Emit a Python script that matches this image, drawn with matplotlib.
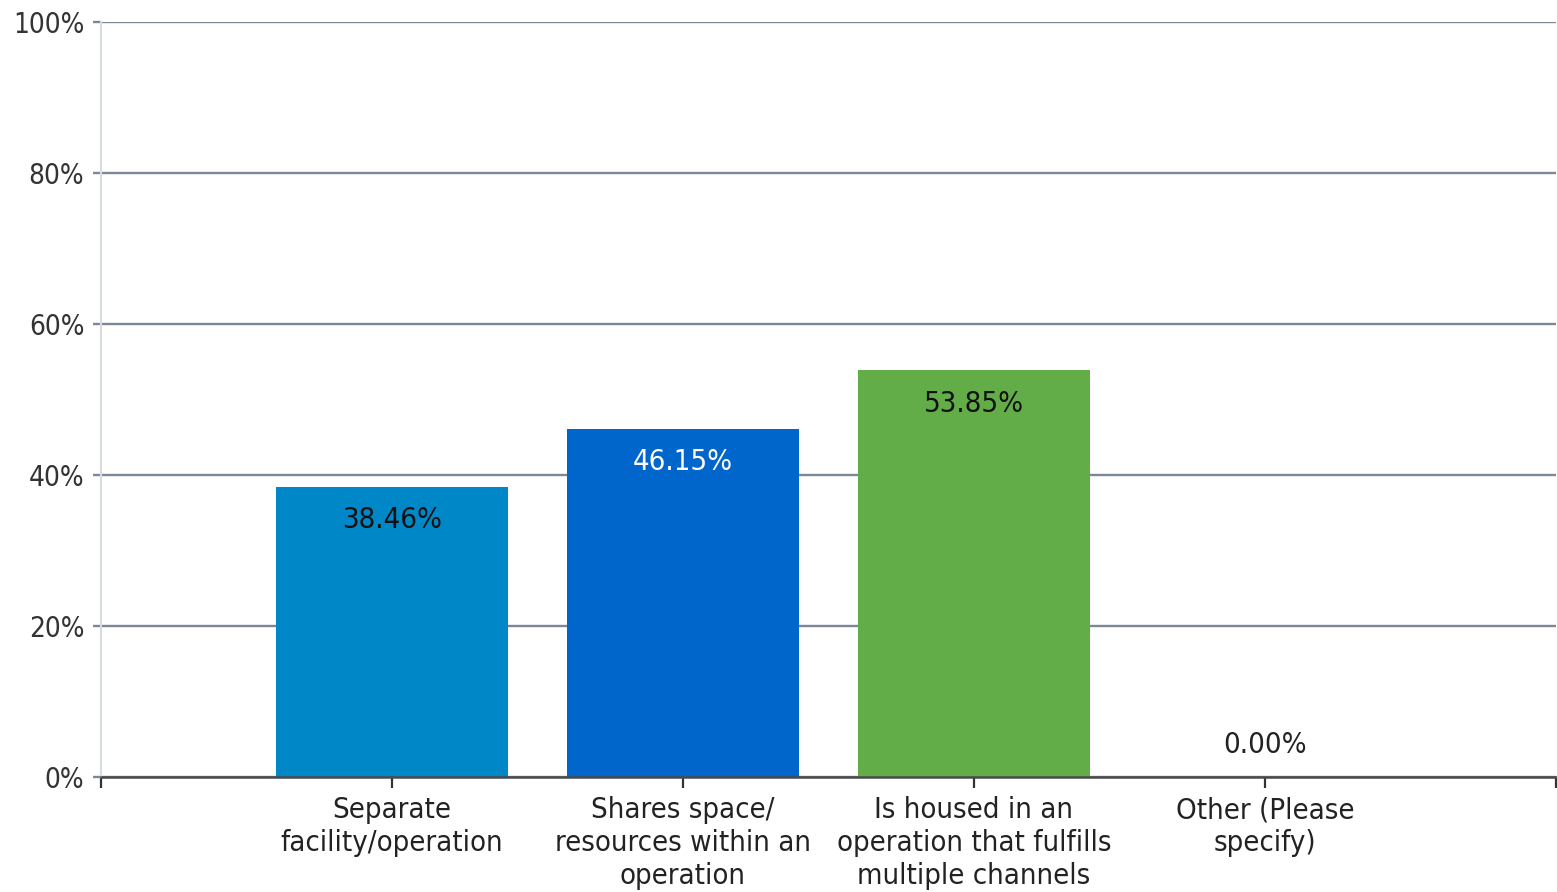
import matplotlib
matplotlib.use("Agg")
import matplotlib.pyplot as plt
from matplotlib.ticker import PercentFormatter

categories = [
    "Separate\nfacility/operation",
    "Shares space/\nresources within an\noperation",
    "Is housed in an\noperation that fulfills\nmultiple channels",
    "Other (Please\nspecify)",
]
values = [38.46, 46.15, 53.85, 0.00]
bar_colors = ["#0087C7", "#0066CC", "#62AD47", "#A0A0A0"]
label_colors = ["#111111", "#FFFFFF", "#111111", "#222222"]
y_ticks = [0, 20, 40, 60, 80, 100]

plt.rcParams["font.family"] = ["DejaVu Sans"]
plt.rcParams["font.stretch"] = "condensed"

fig = plt.figure(figsize=(15.57, 8.92), dpi=100)
ax = fig.add_axes([101 / 1557, 115 / 892, 1455 / 1557, 755 / 892])

x = list(range(1, len(categories) + 1))
ax.bar(x, values, width=0.8, color=bar_colors, zorder=3)

# value labels sit just inside the bar top; an empty bar gets its label above the axis
for xi, v, c in zip(x, values, label_colors):
    off = -24 if v > 0 else 23
    ax.annotate(f"{v:.2f}%", (xi, v), textcoords="offset points", xytext=(0, off),
                ha="center", va="center", fontsize=21, color=c, zorder=4)

ax.set_xlim(0, len(categories) + 1)
ax.set_ylim(0, 100)
ax.set_yticks(y_ticks)
ax.yaxis.set_major_formatter(PercentFormatter(decimals=0))
ax.set_xticks([0] + x + [len(categories) + 1])
ax.set_xticklabels([""] + categories + [""], linespacing=1.22)

grid_c = "#7A8896"
ax.yaxis.grid(True, color=grid_c, linewidth=1.7, zorder=1)
ax.tick_params(axis="y", length=6, width=1.7, color=grid_c, labelsize=20,
               labelcolor="#333333", pad=6)
ax.tick_params(axis="x", length=8, width=1.6, color="#333333", labelsize=21,
               labelcolor="#222222", pad=6)

for s in ("top", "right"):
    ax.spines[s].set_visible(False)
ax.spines["left"].set_color("#D5DCE8")
ax.spines["left"].set_linewidth(1.5)
ax.spines["bottom"].set_color("#4A4A4A")
ax.spines["bottom"].set_linewidth(1.8)
ax.spines["bottom"].set_zorder(5)

fig.savefig("out.png", dpi=100)
